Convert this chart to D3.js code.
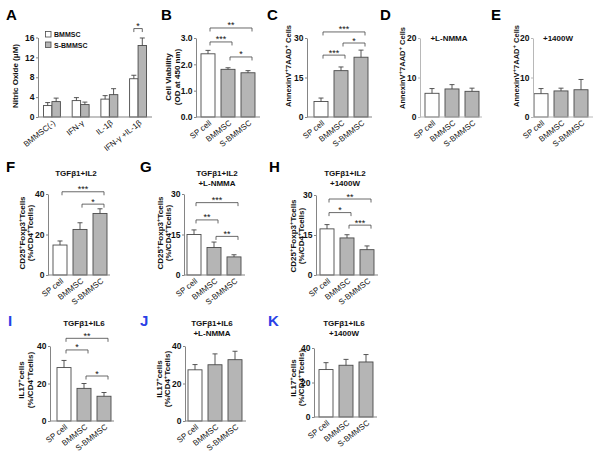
<!DOCTYPE html>
<html><head><meta charset="UTF-8">
<title>NO / viability / apoptosis / Treg / Th17 panels</title>
<script src="https://cdn.jsdelivr.net/npm/d3@7"></script>
<style>
  body { margin: 0; background: #fff; }
  svg text { font-family: "Liberation Sans", Arial, sans-serif; fill: #111; }
</style>
</head>
<body>
<svg id="fig" width="600" height="459"></svg>
<script>
// ---- data ----
const cells = ["SP cell", "BMMSC", "S-BMMSC"];

// panel A: nitric oxide (uM), two series per treatment
const noGroups = ["BMMSC(-)", "IFN-γ", "IL-1β", "IFN-γ +IL-1β"];
const noSeries = ["BMMSC", "S-BMMSC"];
const noBM = [2.3, 3.3, 3.6, 7.7];
const noBMErr = [0.6, 0.6, 0.7, 0.7];
const noSBM = [3.1, 2.5, 4.5, 14.4];
const noSBMErr = [0.7, 0.5, 1.2, 1.5];

const viab = [2.40, 1.81, 1.68],      viabErr = [0.13, 0.06, 0.08];
const apop = [5.9, 17.6, 22.7],       apopErr = [1.3, 1.4, 2.7];
const apopNMMA = [6.0, 7.1, 6.5],     apopNMMAErr = [1.2, 1.1, 0.8];
const apop1400 = [5.9, 6.6, 6.9],     apop1400Err = [1.3, 0.7, 2.6];
const treg = [14.8, 22.5, 30.4],      tregErr = [2.0, 3.3, 2.3];
const tregNMMA = [15.0, 10.2, 6.7],   tregNMMAErr = [1.7, 2.0, 0.8];
const treg1400 = [17.3, 13.9, 9.5],   treg1400Err = [1.6, 1.2, 1.4];
const th17 = [28.5, 17.4, 13.2],      th17Err = [3.8, 2.6, 2.0];
const th17NMMA = [27.3, 30.0, 32.7],  th17NMMAErr = [2.8, 5.8, 4.5];
const th171400 = [27.5, 30.0, 31.9],  th171400Err = [4.0, 3.4, 4.3];

// y tick values
const ticksA = [0, 4, 8, 12, 16];
const ticksB = [0, 1, 2, 3];
const ticks30 = [0, 15, 30];
const ticks20 = [0, 10, 20];
const ticks40 = [0, 20, 40];

// significance brackets: [from, to, stars, level in axis units]
const sigA = [["IFN-γ +IL-1β", "*", 17.8]];
const sigB = [[0, 2, "**", 3.38], [0, 1, "***", 2.85], [1, 2, "*", 2.28]];
const sigC = [[0, 2, "***", 32.3], [1, 2, "*", 28.1], [0, 1, "***", 23.5]];
const sigF = [[0, 2, "***", 41.1], [1, 2, "*", 35.0]];
const sigG = [[0, 2, "***", 26.8], [0, 1, "**", 20.4], [1, 2, "**", 14.3]];
const sigH = [[0, 2, "**", 28.5], [0, 1, "*", 23.4], [1, 2, "***", 18.7]];
const sigI = [[0, 2, "**", 44.1], [0, 1, "*", 37.9], [1, 2, "*", 24.0]];

const labAnnexin = ["AnnexinV^+7AAD^+ Cells"];
const labTreg = ["CD25^+Foxp3^+Tcells", "(%/CD4^+Tcells)"];
const labTh17 = ["IL17^+cells", "(%/CD4^+Tcells)"];

// ---- layout ----
const svg = d3.select("#fig");
const axisCol = "#858585", barStroke = "#4a4a4a", grayFill = "#b5b5b5", inkCol = "#444";
const blue = "#2a3fe6";

function rich(sel, str) {
  const parts = str.split("^+");
  parts.forEach((s, i) => {
    if (i > 0) sel.append("tspan").attr("dy", -3).attr("font-size", 6).text("+");
    sel.append("tspan").attr("dy", i > 0 ? 3 : 0).text(s);
  });
}

function yLabel(lines, xs, cy, fs) {
  lines.forEach((l, i) => {
    const t = svg.append("text")
      .attr("transform", `translate(${xs[i]},${cy}) rotate(-90)`)
      .attr("text-anchor", "middle")
      .attr("font-size", fs || 8).attr("font-weight", "bold");
    rich(t, l);
  });
}

function letter(t, x, y, col) {
  svg.append("text").attr("x", x).attr("y", y)
    .attr("font-size", 15).attr("font-weight", "bold")
    .style("fill", col || "#000").text(t);
}

function title(lines, x, y) {
  lines.forEach((l, i) => {
    svg.append("text").attr("x", x).attr("y", y + i * 9.5)
      .attr("text-anchor", "middle").attr("font-size", 8).attr("font-weight", "bold")
      .text(l);
  });
}

function yAxis(y, ax, ticks, col) {
  const g = svg.append("g").attr("transform", `translate(${ax},0)`)
    .call(d3.axisLeft(y).tickValues(ticks).tickSize(2).tickSizeOuter(0).tickPadding(1.5));
  g.select(".domain").attr("stroke", col);
  g.selectAll(".tick line").attr("stroke", col);
  g.selectAll(".tick text").attr("font-size", 8.5).attr("font-weight", "bold")
    .attr("font-family", "Liberation Sans, Arial, sans-serif").style("fill", "#111");
}

function xLabels(names, cx, y0) {
  names.forEach(n => {
    svg.append("text")
      .attr("transform", `translate(${cx(n) + 4},${y0 + 7}) rotate(-38)`)
      .attr("text-anchor", "end").attr("font-size", 8).text(n);
  });
}

function bracket(x1, x2, yy, label) {
  svg.append("path")
    .attr("d", `M${x1},${yy + 3.5}V${yy}H${x2}V${yy + 3.5}`)
    .attr("fill", "none").attr("stroke", inkCol).attr("stroke-width", 0.8);
  svg.append("text").attr("x", (x1 + x2) / 2).attr("y", yy + 0.5)
    .attr("text-anchor", "middle").attr("font-size", 9).text(label);
}

function bar(x, w, y, v, e, y0, fill) {
  svg.append("rect").attr("x", x).attr("y", y(v)).attr("width", w).attr("height", y0 - y(v))
    .attr("fill", fill).attr("stroke", barStroke).attr("stroke-width", 0.9);
  const cx = x + w / 2;
  svg.append("path")
    .attr("d", `M${cx},${y(v)}V${y(v + e)}M${cx - 2.5},${y(v + e)}H${cx + 2.5}`)
    .attr("stroke", inkCol).attr("stroke-width", 0.9).attr("fill", "none");
}

function panel(p) {
  const y = d3.scaleLinear().domain([0, d3.max(p.ticks)]).range([p.y0, p.y1]);
  const step = 20, bw = 14, pi = 1 - bw / step;
  const r0 = p.ax + p.off - step * pi / 2;
  const x = d3.scaleBand().domain(cells).range([r0, r0 + 3 * step])
    .paddingInner(pi).paddingOuter(pi / 2);

  p.vals.forEach((v, i) => bar(x(cells[i]), x.bandwidth(), y, v, p.errs[i], p.y0, i === 0 ? "#fff" : grayFill));
  yAxis(y, p.ax, p.ticks, p.axisCol || axisCol);
  svg.append("line").attr("x1", p.ax).attr("x2", p.xEnd).attr("y1", p.y0).attr("y2", p.y0)
    .attr("stroke", p.axisCol || axisCol);
  xLabels(cells, c => x(c) + x.bandwidth() / 2, p.y0);

  (p.sig || []).forEach(([a, b, lab, lev]) => {
    const c = i => x(cells[i]) + x.bandwidth() / 2;
    bracket(c(a) + 2, c(b) + 4, y(lev), lab);
  });

  letter(p.letter[0], p.letter[1], p.letter[2], p.letter[3]);
  if (p.title) title(p.title, p.tx, p.ty);
  yLabel(p.ylab, p.lx, p.ly, p.lfs);
}

// ---- panel A (grouped) ----
{
  const y0 = 117;
  const y = d3.scaleLinear().domain([0, 16]).range([y0, 37.5]);
  const x0 = d3.scaleBand().domain(noGroups).range([38, 152]).paddingInner(0.41).paddingOuter(0.19);
  const x1 = d3.scaleBand().domain(noSeries).range([0, x0.bandwidth()]);
  noGroups.forEach((gname, i) => {
    bar(x0(gname) + x1("BMMSC"), x1.bandwidth(), y, noBM[i], noBMErr[i], y0, "#fff");
    bar(x0(gname) + x1("S-BMMSC"), x1.bandwidth(), y, noSBM[i], noSBMErr[i], y0, grayFill);
  });
  yAxis(y, 38, ticksA, axisCol);
  svg.append("line").attr("x1", 38).attr("x2", 152).attr("y1", y0).attr("y2", y0).attr("stroke", axisCol);
  xLabels(noGroups, g => x0(g) + x0.bandwidth() / 2, y0);
  sigA.forEach(([gname, lab, lev]) => {
    const c = s => x0(gname) + x1(s) + x1.bandwidth() / 2;
    bracket(c("BMMSC"), c("S-BMMSC"), y(lev), lab);
  });
  // legend
  noSeries.forEach((s, i) => {
    svg.append("rect").attr("x", 45.5).attr("y", 31.5 + i * 10.5).attr("width", 5.5).attr("height", 5.5)
      .attr("fill", i === 0 ? "#fff" : grayFill).attr("stroke", barStroke).attr("stroke-width", 0.8);
    svg.append("text").attr("x", 54).attr("y", 37 + i * 10.5)
      .attr("font-size", 7).attr("font-weight", "bold").text(s);
  });
  letter("A", 6, 20);
  yLabel(["Nitric Oxide  (μM)"], [18], 76);
}

const panels = [
  { vals: viab, errs: viabErr, ticks: ticksB, sig: sigB, ax: 196, off: 5, xEnd: 260, y0: 117, y1: 38,
    letter: ["B", 161, 20], ylab: ["Cell Viability", "(OD at 450 nm)"], lx: [171, 180], ly: 77 },
  { vals: apop, errs: apopErr, ticks: ticks30, sig: sigC, ax: 307, off: 7, xEnd: 372, y0: 117, y1: 38,
    letter: ["C", 267, 20], ylab: labAnnexin, lx: [291], ly: 66, lfs: 7.5 },
  { vals: apopNMMA, errs: apopNMMAErr, ticks: ticks20, ax: 420, off: 5, xEnd: 482, y0: 117, y1: 38,
    axisCol: "#b8b8b8", letter: ["D", 380, 20], title: ["+L-NMMA"], tx: 449, ty: 41,
    ylab: labAnnexin, lx: [405], ly: 68, lfs: 7.5 },
  { vals: apop1400, errs: apop1400Err, ticks: ticks20, ax: 533, off: 1, xEnd: 593, y0: 117, y1: 38,
    axisCol: "#b8b8b8", letter: ["E", 491, 20], title: ["+1400W"], tx: 558, ty: 41,
    ylab: labAnnexin, lx: [519], ly: 66, lfs: 7.5 },

  { vals: treg, errs: tregErr, ticks: ticks40, sig: sigF, ax: 48, off: 5, xEnd: 110, y0: 275, y1: 194,
    letter: ["F", 6, 172], title: ["TGFβ1+IL2"], tx: 76, ty: 176,
    ylab: labTreg, lx: [25, 33], ly: 233 },
  { vals: tregNMMA, errs: tregNMMAErr, ticks: ticks30, sig: sigG, ax: 184, off: 3, xEnd: 245, y0: 275, y1: 194,
    letter: ["G", 140, 172], title: ["TGFβ1+IL2", "+L-NMMA"], tx: 217, ty: 176,
    ylab: labTreg, lx: [163, 171], ly: 233 },
  { vals: treg1400, errs: treg1400Err, ticks: ticks30, sig: sigH, ax: 316, off: 4, xEnd: 378, y0: 275, y1: 195,
    letter: ["H", 269, 172], title: ["TGFβ1+IL2", "+1400W"], tx: 345, ty: 176,
    ylab: labTreg, lx: [296, 304], ly: 236 },

  { vals: th17, errs: th17Err, ticks: ticks40, sig: sigI, ax: 50, off: 7, xEnd: 114, y0: 421, y1: 346,
    letter: ["I", 8, 326, blue], title: ["TGFβ1+IL6"], tx: 84, ty: 326,
    ylab: labTh17, lx: [24, 33], ly: 380 },
  { vals: th17NMMA, errs: th17NMMAErr, ticks: ticks40, ax: 185, off: 3, xEnd: 246, y0: 421, y1: 346,
    letter: ["J", 140, 326, blue], title: ["TGFβ1+IL6", "+L-NMMA"], tx: 212, ty: 326,
    ylab: labTh17, lx: [162, 170], ly: 379 },
  { vals: th171400, errs: th171400Err, ticks: ticks40, ax: 314, off: 5, xEnd: 377, y0: 417, y1: 348,
    letter: ["K", 268, 326, blue], title: ["TGFβ1+IL6", "+1400W"], tx: 344, ty: 326,
    ylab: labTh17, lx: [296, 304], ly: 378 }
];

panels.forEach(panel);
</script>
</body></html>
